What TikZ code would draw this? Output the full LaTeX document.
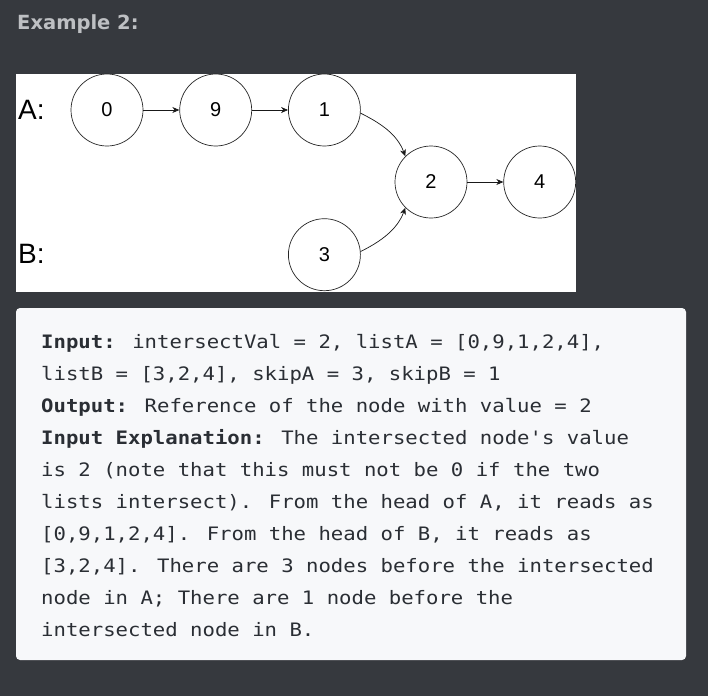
\documentclass[tikz,border=0pt]{standalone}
\usepackage{fontspec}
\setmainfont{Liberation Sans}
\newfontfamily\titlefont{DejaVu Sans}
\newfontfamily\codefont[FakeStretch=1.115]{DejaVu Sans Mono}
\usepackage{xcolor}
\usepackage{tikz}
\usetikzlibrary{
    positioning,
    arrows.meta
}
\definecolor{pagebg}{HTML}{36393E}
\definecolor{titlegray}{HTML}{BEC0C3}
\definecolor{codebg}{HTML}{F7F8FA}
\definecolor{codetext}{HTML}{2A2E34}
\tikzset{
    listnode/.style={
        circle, draw=black!85, line width=0.7pt,
        minimum size=72pt, inner sep=0pt,
        font=\fontsize{20}{20}\selectfont
    },
    listlabel/.style={
        anchor=west, inner sep=0pt,
        font=\fontsize{28}{28}\selectfont
    },
    link/.style={
        -{Stealth[length=7pt,width=6pt]}, line width=0.7pt, draw=black!90
    },
    codeline/.style={
        anchor=base west, inner sep=0pt, text=codetext,
        font=\codefont\fontsize{18.5}{18.5}\selectfont
    }
}

\begin{document}
\begin{tikzpicture}[
        x=1pt, y=-1pt,
        node distance=36pt,
        titletext/.style={anchor=base west, inner sep=0pt, text=titlegray, font=\titlefont\bfseries\fontsize{19.5}{19.5}\selectfont}
    ]

        % Background
        \fill[pagebg] (0,0) rectangle (708,696);
        \useasboundingbox (0,0) rectangle (708,696);

        % Title
        \node[titletext] (title) at (17,29) {Example 2:};

        % Diagram panel
        \fill[white] (16,74) rectangle (576,292);
        \node[listlabel] (labelA) at (18,110) {A:};
        \node[listlabel] (labelB) at (18,254) {B:};

        % List nodes
        \node[listnode] (n0) at (107,110) {0};
        \node[listnode, right=of n0] (n9) {9};
        \node[listnode, right=of n9] (n1) {1};
        \node[listnode] (n2) at (431,182) {2};
        \node[listnode, right=of n2] (n4) {4};
        \node[listnode, below=72pt of n1] (n3) {3};

        % Links
        \draw[link] (n0) -- (n9);
        \draw[link] (n9) -- (n1);
        \draw[link] (n1.-5) .. controls +(20,10) and +(-8,-22) .. (n2.135);
        \draw[link] (n3.5) .. controls +(20,-10) and +(-8,22) .. (n2.-135);
        \draw[link] (n2) -- (n4);

        % Explanation box
        \fill[codebg, rounded corners=4pt] (16,308) rectangle (686,660);
        \node[codeline] (line1) at (41,348) {\textbf{Input:} intersectVal = 2, listA = [0,9,1,2,4],};
        \node[codeline] (line2) at (41,380) {listB = [3,2,4], skipA = 3, skipB = 1};
        \node[codeline] (line3) at (41,412) {\textbf{Output:} Reference of the node with value = 2};
        \node[codeline] (line4) at (41,444) {\textbf{Input Explanation:} The intersected node's value};
        \node[codeline] (line5) at (41,476) {is 2 (note that this must not be 0 if the two};
        \node[codeline] (line6) at (41,508) {lists intersect). From the head of A, it reads as};
        \node[codeline] (line7) at (41,540) {[0,9,1,2,4]. From the head of B, it reads as};
        \node[codeline] (line8) at (41,572) {[3,2,4]. There are 3 nodes before the intersected};
        \node[codeline] (line9) at (41,604) {node in A; There are 1 node before the};
        \node[codeline] (line10) at (41,636) {intersected node in B.};

    \end{tikzpicture}
\end{document}
